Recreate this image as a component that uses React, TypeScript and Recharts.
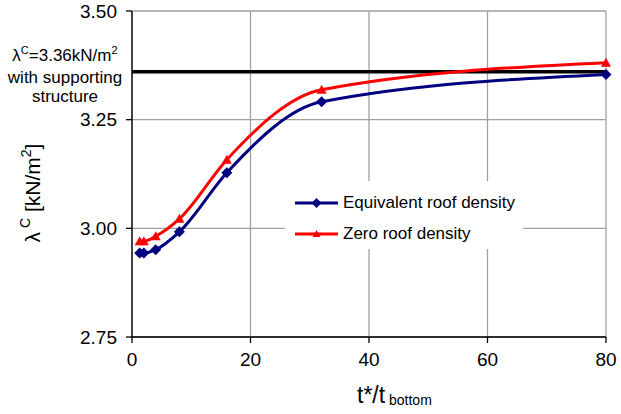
import React from "react";
import {
  LineChart, Line, XAxis, YAxis, CartesianGrid, ReferenceLine, Legend,
} from "recharts";

// t*/t_bottom ratios and lambda^C values
const ratios = [1.3, 2, 4, 8, 16, 32, 80];
const equivalentRoof = [2.943, 2.943, 2.951, 2.992, 3.128, 3.291, 3.354];
const zeroRoof = [2.970, 2.970, 2.982, 3.022, 3.158, 3.319, 3.381];
const supportLevel = 3.36;
const xTicks = [0, 20, 40, 60, 80];
const yTicks = [2.75, 3.0, 3.25, 3.5];

const data = ratios.map((r, i) => ({ r, eq: equivalentRoof[i], zero: zeroRoof[i] }));

const FONT = "'Liberation Sans', Arial, sans-serif";
const NAVY = "#000080";
const RED = "#ff0000";

const Diamond = (props: any) => {
  const { cx, cy } = props;
  if (cx == null || cy == null) return null;
  const s = 5.5;
  return <path d={`M${cx},${cy - s}L${cx + s},${cy}L${cx},${cy + s}L${cx - s},${cy}Z`} fill={NAVY} />;
};

const Triangle = (props: any) => {
  const { cx, cy } = props;
  if (cx == null || cy == null) return null;
  const s = 5;
  return <path d={`M${cx},${cy - s}L${cx + s},${cy + s * 0.8}L${cx - s},${cy + s * 0.8}Z`} fill={RED} />;
};

const YLabel = ({ viewBox }: any) => {
  const x = viewBox.x - 20;
  const y = viewBox.y + viewBox.height / 2 + 19;
  return (
    <text x={x} y={y} transform={`rotate(-90, ${x}, ${y})`} textAnchor="middle"
      fontFamily={FONT} fontSize={21} fill="#000">
      <tspan>λ</tspan>
      <tspan fontSize={14} dy={-10}> C</tspan>
      <tspan dy={10}> [kN/m</tspan>
      <tspan fontSize={14} dy={-9}>2</tspan>
      <tspan dy={9}>]</tspan>
    </text>
  );
};

const XLabel = ({ viewBox }: any) => {
  const x = viewBox.x + 225;
  const y = viewBox.y + 66;
  return (
    <text x={x} y={y} fontFamily={FONT} fill="#000">
      <tspan fontSize={23}>t*/t</tspan>
      <tspan fontSize={14} dy={2}> bottom</tspan>
    </text>
  );
};

const SupportNote = ({ viewBox }: any) => {
  const x = viewBox.x - 67;
  const y = viewBox.y;
  return (
    <text textAnchor="middle" fontFamily={FONT} fontSize={17} fill="#000">
      <tspan x={x} y={y - 11}>
        λ<tspan fontSize={11} dy={-7}>C</tspan>
        <tspan dy={7}>=3.36kN/m</tspan>
        <tspan fontSize={11} dy={-7}>2</tspan>
      </tspan>
      <tspan x={x} y={y + 11}>with supporting</tspan>
      <tspan x={x} y={y + 30}>structure</tspan>
    </text>
  );
};

const LegendBox = () => (
  <div style={{ background: "#fff", fontFamily: FONT, fontSize: 17, color: "#000", paddingTop: 6 }}>
    {[
      { name: "Equivalent roof density", color: NAVY, shape: "d" },
      { name: "Zero roof density", color: RED, shape: "t" },
    ].map((it) => (
      <div key={it.name} style={{ display: "flex", alignItems: "center", height: 31 }}>
        <svg width={56} height={14} style={{ marginLeft: 8 }}>
          <line x1={2} x2={45} y1={7} y2={7} stroke={it.color} strokeWidth={3} />
          {it.shape === "d"
            ? <path d="M23.5,2L28.5,7L23.5,12L18.5,7Z" fill={it.color} />
            : <path d="M23.5,3L27.5,10L19.5,10Z" fill={it.color} />}
        </svg>
        <span style={{ marginLeft: -6 }}>{it.name}</span>
      </div>
    ))}
  </div>
);

export default function App() {
  return (
    <div style={{ position: "absolute", left: 0, top: 0, width: 621, height: 414, background: "#fff" }}>
      <LineChart width={621} height={414} data={data}
        margin={{ top: 11, right: 15, bottom: 37, left: 60 }}>
        <CartesianGrid stroke="#a0a0a0" strokeWidth={1.3} />
        <XAxis dataKey="r" type="number" domain={[0, 80]} ticks={xTicks} height={40}
          stroke="#000" strokeWidth={1.3} tickSize={6} tickMargin={10}
          tick={{ fontSize: 19, fontFamily: FONT, fill: "#000" }}
          label={{ content: XLabel }} />
        <YAxis type="number" domain={[2.75, 3.5]} ticks={yTicks} width={72}
          stroke="#000" strokeWidth={1.3} tickSize={6} tickMargin={9}
          tickFormatter={(v: number) => v.toFixed(2)}
          tick={{ fontSize: 19, fontFamily: FONT, fill: "#000" }}
          label={{ content: YLabel }} />
        <ReferenceLine y={supportLevel} stroke="#000" strokeWidth={3.5} label={{ content: SupportNote }} />
        <Legend layout="vertical" align="center" verticalAlign="middle" content={LegendBox}
          wrapperStyle={{ left: 285, top: 181, width: 238, height: 66 }} />
        <Line type="monotone" dataKey="eq" name="Equivalent roof density" stroke={NAVY}
          strokeWidth={3} dot={<Diamond />} activeDot={false} isAnimationActive={false} />
        <Line type="monotone" dataKey="zero" name="Zero roof density" stroke={RED}
          strokeWidth={3} dot={<Triangle />} activeDot={false} isAnimationActive={false} />
      </LineChart>
    </div>
  );
}
